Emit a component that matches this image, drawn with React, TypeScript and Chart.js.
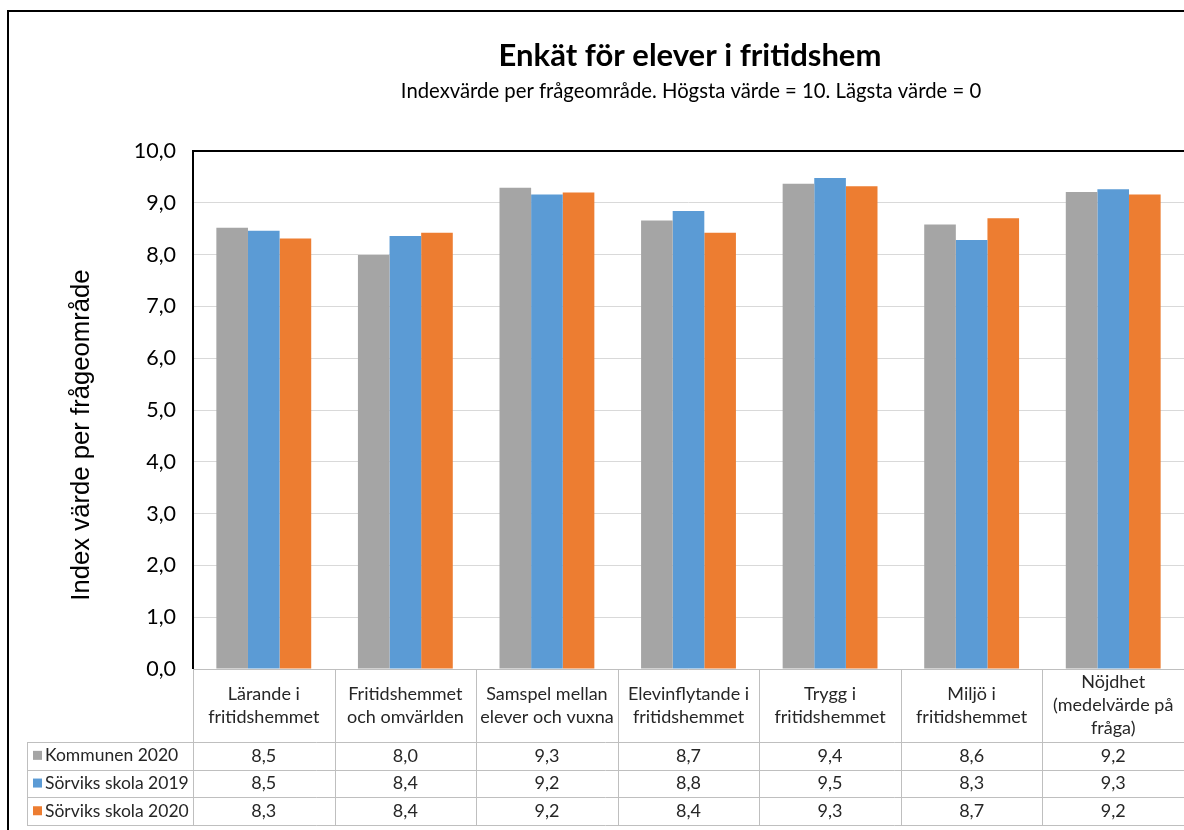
import React, { useEffect, useRef } from "react";
import { Chart, registerables } from "chart.js";

Chart.register(...registerables);

const categories: string[][] = [
  ["Lärande i", "fritidshemmet"],
  ["Fritidshemmet", "och omvärlden"],
  ["Samspel mellan", "elever och vuxna"],
  ["Elevinflytande i", "fritidshemmet"],
  ["Trygg i", "fritidshemmet"],
  ["Miljö i", "fritidshemmet"],
  ["Nöjdhet", "(medelvärde på", "fråga)"],
];
const seriesNames = ["Kommunen 2020", "Sörviks skola 2019", "Sörviks skola 2020"];
const kommunen2020 = [8.52, 7.99, 9.29, 8.66, 9.37, 8.58, 9.21];
const sorviks2019 = [8.46, 8.36, 9.16, 8.84, 9.48, 8.28, 9.26];
const sorviks2020 = [8.31, 8.42, 9.2, 8.42, 9.32, 8.7, 9.16];
const seriesColors = ["#A5A5A5", "#5B9BD5", "#ED7D31"];
const titleText = "Enkät för elever i fritidshem";
const subtitleText = "Indexvärde per frågeområde. Högsta värde = 10. Lägsta värde = 0";
const yAxisTitle = "Index värde per frågeområde";
const yMin = 0;
const yMax = 10;
const yStep = 1;

const FONT = "Lato, 'Liberation Sans', sans-serif";
const fmt = (v: number) => v.toFixed(1).replace(".", ",");

export default function App() {
  const ref = useRef<HTMLCanvasElement | null>(null);
  useEffect(() => {
    if (!ref.current) return;
    const seriesData = [kommunen2020, sorviks2019, sorviks2020];

    const framePlugin = {
      id: "framePlugin",
      afterDraw(chart: any) {
        const ctx = chart.ctx as CanvasRenderingContext2D;
        const area = chart.chartArea;
        const xs = chart.scales.x;
        const n = categories.length;
        const half = (xs.getPixelForValue(1) - xs.getPixelForValue(0)) / 2;
        ctx.save();

        // outer frame
        ctx.strokeStyle = "#000";
        ctx.lineWidth = 2;
        ctx.beginPath();
        ctx.moveTo(8, 830);
        ctx.lineTo(8, 11);
        ctx.lineTo(1184, 11);
        ctx.stroke();

        // title
        ctx.fillStyle = "#000";
        ctx.textAlign = "center";
        ctx.textBaseline = "middle";
        ctx.font = `bold 31px ${FONT}`;
        ctx.fillText(titleText, 690, 56);
        ctx.font = `20.3px ${FONT}`;
        ctx.fillText(subtitleText, 691, 91);

        // y axis title
        ctx.save();
        ctx.translate(82, 435);
        ctx.rotate(-Math.PI / 2);
        ctx.font = `25.7px 'Liberation Sans', Arial, sans-serif`;
        ctx.fillText(yAxisTitle, 0, 0);
        ctx.restore();

        // plot border top & left
        ctx.strokeStyle = "#000";
        ctx.lineWidth = 2;
        ctx.beginPath();
        ctx.moveTo(area.left, area.bottom);
        ctx.lineTo(area.left, area.top);
        ctx.lineTo(1184, area.top);
        ctx.stroke();

        // data table
        const headerTop = area.bottom;
        const headerBottom = headerTop + 73;
        const rowH = 27.7;
        const legendLeft = 27;
        ctx.strokeStyle = "#BFBFBF";
        ctx.lineWidth = 1;
        ctx.beginPath();
        ctx.moveTo(area.left, headerTop + 0.5);
        ctx.lineTo(1184, headerTop + 0.5);
        for (let r = 0; r <= seriesNames.length; r++) {
          const y = Math.round(headerBottom + r * rowH) + 0.5;
          ctx.moveTo(legendLeft, y);
          ctx.lineTo(1184, y);
        }
        const tableBottom = headerBottom + seriesNames.length * rowH;
        ctx.moveTo(legendLeft + 0.5, headerBottom);
        ctx.lineTo(legendLeft + 0.5, tableBottom);
        for (let i = 0; i <= n; i++) {
          const x = Math.round(xs.getPixelForValue(i) - half) + 0.5;
          ctx.moveTo(x, headerTop);
          ctx.lineTo(x, tableBottom);
        }
        ctx.stroke();

        ctx.fillStyle = "#262626";
        ctx.font = `18px ${FONT}`;
        ctx.textAlign = "center";
        ctx.textBaseline = "middle";
        const headerMid = (headerTop + headerBottom) / 2;
        const lh = 23;
        categories.forEach((lines, i) => {
          const cx = xs.getPixelForValue(i);
          const start = headerMid - ((lines.length - 1) * lh) / 2;
          lines.forEach((t, k) => ctx.fillText(t, cx, start + k * lh));
        });

        seriesNames.forEach((name, r) => {
          const cy = headerBottom + r * rowH + rowH / 2;
          ctx.fillStyle = seriesColors[r];
          ctx.fillRect(33, cy - 5, 9, 9);
          ctx.fillStyle = "#262626";
          ctx.textAlign = "left";
          ctx.font = `17.5px ${FONT}`;
          ctx.fillText(name, 45, cy);
          ctx.textAlign = "center";
          ctx.font = `18px ${FONT}`;
          seriesData[r].forEach((v, i) => {
            ctx.fillText(fmt(v), xs.getPixelForValue(i), cy);
          });
        });
        ctx.restore();
      },
    };

    const chart = new Chart(ref.current, {
      type: "bar",
      data: {
        labels: categories.map((c) => c.join(" ")),
        datasets: seriesNames.map((name, i) => ({
          label: name,
          data: seriesData[i],
          backgroundColor: seriesColors[i],
          borderWidth: 0,
          barPercentage: 1,
          categoryPercentage: 0.67,
        })),
      },
      options: {
        responsive: false,
        animation: false,
        layout: { padding: { left: 58, top: 151, right: 0, bottom: 161 } },
        plugins: {
          legend: { display: false },
          tooltip: { enabled: false },
          title: { display: false },
        },
        scales: {
          x: {
            ticks: { display: false },
            grid: { display: false, drawTicks: false },
            border: { display: false },
          },
          y: {
            min: yMin,
            max: yMax,
            ticks: {
              stepSize: yStep,
              callback: (v: any) => fmt(Number(v)),
              font: { size: 21.5, family: FONT },
              color: "#000",
              padding: 17,
            },
            grid: { color: "#D9D9D9", drawTicks: false, lineWidth: 1 },
            border: { display: false },
            title: { display: false },
            afterFit: (s: any) => {
              s.width = 135;
            },
          },
        },
      },
      plugins: [framePlugin],
    });
    return () => chart.destroy();
  }, []);

  return (
    <div style={{ position: "fixed", left: 0, top: 0, width: 1184, height: 830, background: "#fff" }}>
      <canvas ref={ref} width={1184} height={830} style={{ display: "block" }} />
    </div>
  );
}
